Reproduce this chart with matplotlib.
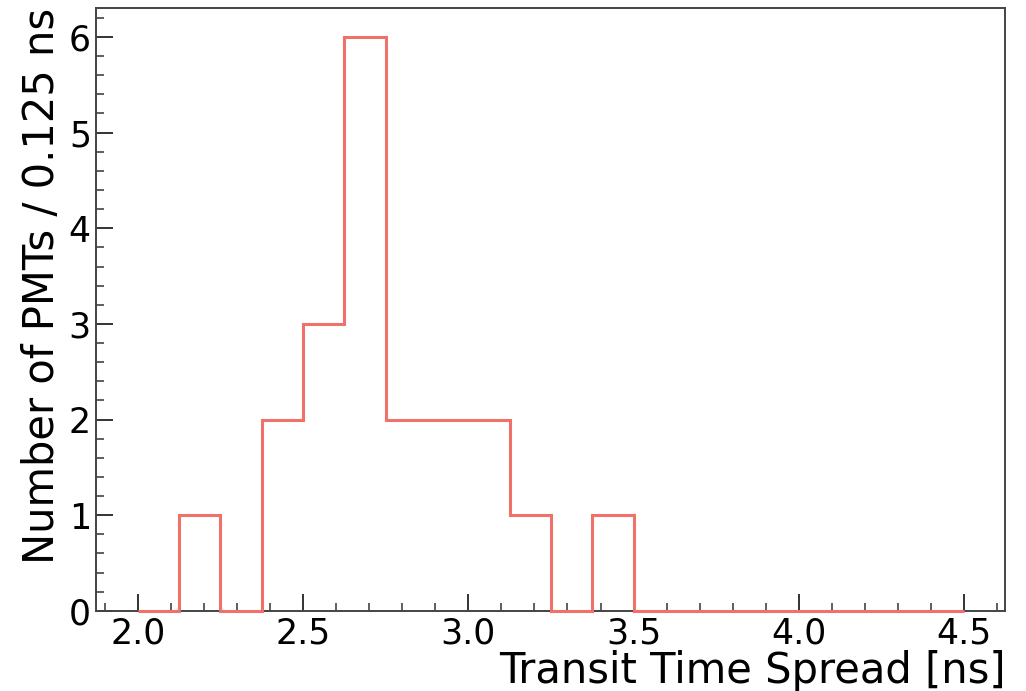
import numpy as np
import matplotlib
matplotlib.use("Agg")
import matplotlib.pyplot as plt
from matplotlib.ticker import MultipleLocator

# TTS histogram, 0.125 ns bins
bin_edges = np.arange(2.0, 4.5 + 0.0625, 0.125)
counts = [0, 1, 0, 2, 3, 6, 2, 2, 2, 1, 0, 1, 0, 0, 0, 0, 0, 0, 0, 0]

fig, ax = plt.subplots(figsize=(10.26, 6.91), dpi=100)
fig.subplots_adjust(left=0.094, right=0.98, top=0.988, bottom=0.116)

ax.stairs(counts, bin_edges, color="#f0716a", linewidth=2.2, zorder=3, clip_on=False)
ax.set_xlim(1.875, 4.625)
ax.set_ylim(0, 6.3)

ax.xaxis.set_major_locator(MultipleLocator(0.5))
ax.xaxis.set_minor_locator(MultipleLocator(0.1))
ax.yaxis.set_major_locator(MultipleLocator(1))
ax.yaxis.set_minor_locator(MultipleLocator(0.2))
ax.tick_params(which="both", direction="in", labelsize=25, colors="#333333", labelcolor="black")
ax.tick_params(which="major", length=12, width=1.4, pad=4)
ax.tick_params(which="minor", length=6, width=1.1)

for s in ax.spines.values():
    s.set_color("#444444")
    s.set_linewidth(1.4)

ax.set_xlabel("Transit Time Spread [ns]", fontsize=30, loc="right", labelpad=0)
ax.set_ylabel("Number of PMTs / 0.125 ns", fontsize=30, loc="top", labelpad=4)

fig.savefig("out.png")
